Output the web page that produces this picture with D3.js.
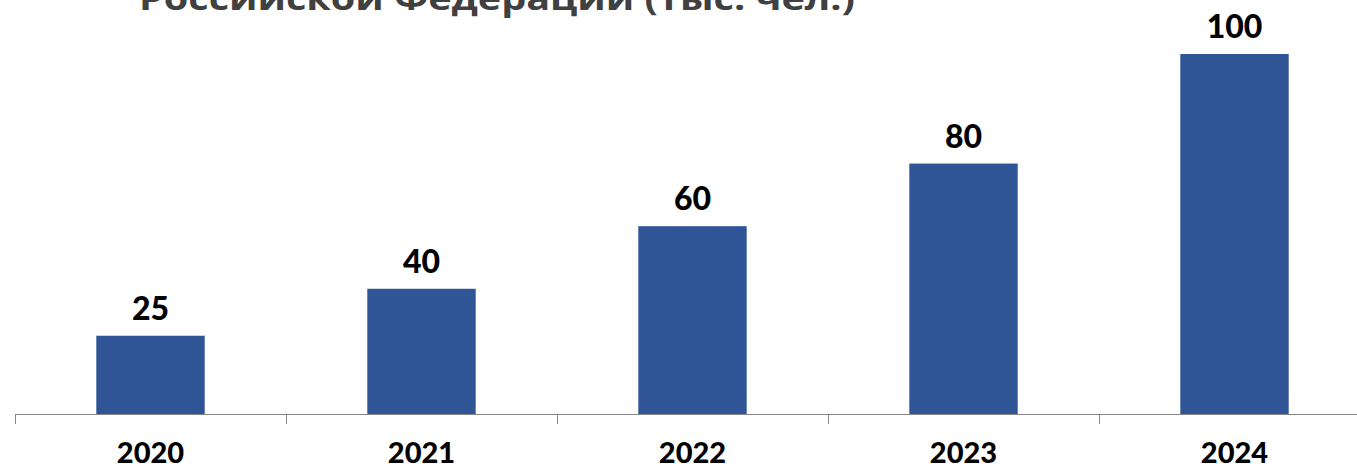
<!DOCTYPE html>
<html><head><meta charset="utf-8">
<script src="https://cdn.jsdelivr.net/npm/d3@7"></script>
<style>html,body{margin:0;padding:0;background:#fff;overflow:hidden}</style>
</head><body>
<svg id="chart" width="1357" height="469"></svg>
<script>
const titleLines = ["Российской Федерации (тыс. чел.)"];
const categories = ["2020", "2021", "2022", "2023", "2024"];
const labels = ["25", "40", "60", "80", "100"];
// bar heights as drawn in the picture (last bar is drawn taller than its label)
const barValues = [25, 40, 60, 80, 115];

const svg = d3.select("#chart");
const baseY = 414, topY = 54;
const x = d3.scaleBand().domain(categories).range([15, 1370]).paddingInner(0.6).paddingOuter(0.3);
const y = d3.scaleLinear().domain([0, 115]).range([baseY, topY]);

svg.append("text").attr("x", 139).attr("y", 10)
  .attr("font-family", "'Open Sans', Lato, sans-serif").attr("font-weight", "bold")
  .attr("font-size", 33).attr("fill", "#404040")
  .attr("textLength", 716).attr("lengthAdjust", "spacingAndGlyphs")
  .text(titleLines[0]);

svg.selectAll("rect.bar").data(categories).join("rect").attr("class", "bar")
  .attr("x", d => x(d)).attr("width", x.bandwidth())
  .attr("y", (d, i) => y(barValues[i])).attr("height", (d, i) => baseY - y(barValues[i]))
  .attr("fill", "#2F5597");

// axis
const step = x.step();
const x0 = x.range()[0];
const bounds = d3.range(categories.length + 1).map(i => x0 + i * step);
svg.append("line").attr("x1", x0).attr("x2", x.range()[1]).attr("y1", baseY + 0.5).attr("y2", baseY + 0.5)
  .attr("stroke", "#878787").attr("stroke-width", 1);
svg.selectAll("line.tick").data(bounds).join("line").attr("class", "tick")
  .attr("x1", d => Math.round(d) + 0.5).attr("x2", d => Math.round(d) + 0.5)
  .attr("y1", baseY).attr("y2", baseY + 10).attr("stroke", "#878787");

svg.selectAll("text.cat").data(categories).join("text").attr("class", "cat")
  .attr("x", d => x(d) + x.bandwidth() / 2).attr("y", 463)
  .attr("text-anchor", "middle").attr("font-family", "Lato, sans-serif")
  .attr("font-weight", 900).attr("font-size", 29).attr("fill", "#000").text(d => d);

svg.selectAll("text.val").data(categories).join("text").attr("class", "val")
  .attr("x", d => x(d) + x.bandwidth() / 2).attr("y", (d, i) => y(barValues[i]) - 16)
  .attr("text-anchor", "middle").attr("font-family", "Lato, sans-serif")
  .attr("font-weight", 900).attr("font-size", 32).attr("fill", "#000").text((d, i) => labels[i]);
</script>
</body></html>
